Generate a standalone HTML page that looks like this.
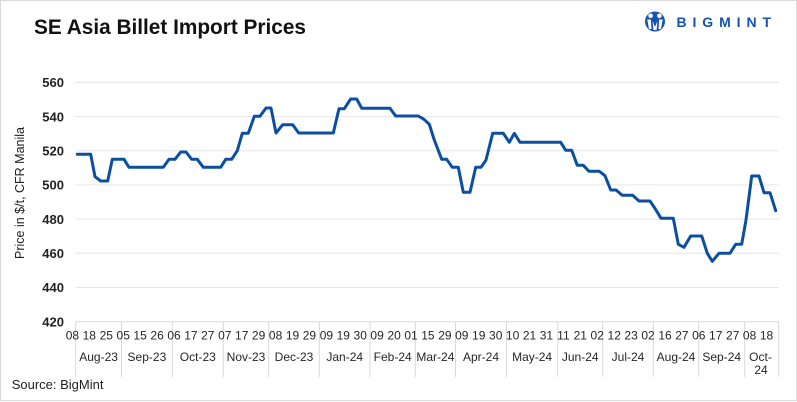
<!DOCTYPE html>
<html>
<head>
<meta charset="utf-8">
<style>
  html,body{margin:0;padding:0;background:#fff;}
  .wrap{position:relative;width:797px;height:402px;overflow:hidden;background:#fff;}
  svg{position:absolute;left:0;top:0;}
  text{font-family:"Liberation Sans", Arial, sans-serif;}
</style>
</head>
<body>
<div class="wrap">
<svg width="797" height="402" viewBox="0 0 797 402" xmlns="http://www.w3.org/2000/svg">
  <rect x="0.5" y="0.5" width="796" height="400" fill="#fff" stroke="#d9d9d9" stroke-width="1"/>

  <!-- Title -->
  <text x="34" y="34" font-size="20.8" font-weight="bold" fill="#111">SE Asia Billet Import Prices</text>

  <!-- Logo -->
  <g>
    <circle cx="655" cy="21.5" r="10" fill="#1652b4"/>
    <circle cx="650.6" cy="15.8" r="2.3" fill="#fff"/>
    <circle cx="659.4" cy="15.8" r="2.3" fill="#fff"/>
    <path d="M647.3 19.5 L650.8 19.5 L651.5 29 L649 29 Z" fill="#fff"/>
    <path d="M662.7 19.5 L659.2 19.5 L658.5 29 L661 29 Z" fill="#fff"/>
    <path d="M652.6 21 L655 27 L657.4 21 L656.6 30 L653.4 30 Z" fill="#fff"/>
    <text x="676.5" y="27.2" font-size="14" font-weight="bold" fill="#1652b4" letter-spacing="5.9">BIGMINT</text>
  </g>

  <!-- Gridlines -->
  <g stroke="#e6e6e6" stroke-width="1">
    <line x1="75.5" y1="82.4" x2="779" y2="82.4"/>
    <line x1="75.5" y1="116.6" x2="779" y2="116.6"/>
    <line x1="75.5" y1="150.8" x2="779" y2="150.8"/>
    <line x1="75.5" y1="184.9" x2="779" y2="184.9"/>
    <line x1="75.5" y1="219.1" x2="779" y2="219.1"/>
    <line x1="75.5" y1="253.3" x2="779" y2="253.3"/>
    <line x1="75.5" y1="287.5" x2="779" y2="287.5"/>
  </g>
  <!-- Axis + month separators -->
  <g stroke="#d9d9d9" stroke-width="1">
    <line x1="75.5" y1="321.7" x2="779" y2="321.7"/>
    <line x1="75.7" y1="321.7" x2="75.7" y2="377"/>
    <line x1="121.5" y1="321.7" x2="121.5" y2="377"/>
    <line x1="172.3" y1="321.7" x2="172.3" y2="377"/>
    <line x1="223.3" y1="321.7" x2="223.3" y2="377"/>
    <line x1="268.7" y1="321.7" x2="268.7" y2="377"/>
    <line x1="319.3" y1="321.7" x2="319.3" y2="377"/>
    <line x1="370" y1="321.7" x2="370" y2="377"/>
    <line x1="415.3" y1="321.7" x2="415.3" y2="377"/>
    <line x1="455.5" y1="321.7" x2="455.5" y2="377"/>
    <line x1="506.5" y1="321.7" x2="506.5" y2="377"/>
    <line x1="557.7" y1="321.7" x2="557.7" y2="377"/>
    <line x1="602.7" y1="321.7" x2="602.7" y2="377"/>
    <line x1="653.3" y1="321.7" x2="653.3" y2="377"/>
    <line x1="698.7" y1="321.7" x2="698.7" y2="377"/>
    <line x1="744.7" y1="321.7" x2="744.7" y2="377"/>
    <line x1="778.7" y1="321.7" x2="778.7" y2="377"/>
  </g>

  <!-- Y tick labels -->
  <g font-size="13" font-weight="bold" fill="#222" text-anchor="end">
    <text x="64" y="87.1">560</text>
    <text x="64" y="121.3">540</text>
    <text x="64" y="155.5">520</text>
    <text x="64" y="189.6">500</text>
    <text x="64" y="223.8">480</text>
    <text x="64" y="258">460</text>
    <text x="64" y="292.2">440</text>
    <text x="64" y="326.4">420</text>
  </g>

  <!-- Y axis title -->
  <text transform="translate(24,193) rotate(-90)" font-size="12.5" fill="#222" text-anchor="middle">Price in $/t, CFR Manila</text>

  <!-- Day labels -->
  <g font-size="12" fill="#262626" text-anchor="middle">
    <text x="72.4" y="339.5">08</text>
    <text x="89.3" y="339.5">18</text>
    <text x="106.3" y="339.5">25</text>
    <text x="123.2" y="339.5">05</text>
    <text x="140.1" y="339.5">15</text>
    <text x="157.1" y="339.5">26</text>
    <text x="174" y="339.5">06</text>
    <text x="190.9" y="339.5">17</text>
    <text x="207.8" y="339.5">27</text>
    <text x="224.8" y="339.5">07</text>
    <text x="241.7" y="339.5">17</text>
    <text x="258.6" y="339.5">29</text>
    <text x="275.6" y="339.5">08</text>
    <text x="292.5" y="339.5">19</text>
    <text x="309.4" y="339.5">29</text>
    <text x="326.4" y="339.5">09</text>
    <text x="343.3" y="339.5">19</text>
    <text x="360.2" y="339.5">30</text>
    <text x="377.1" y="339.5">09</text>
    <text x="394.1" y="339.5">20</text>
    <text x="411" y="339.5">01</text>
    <text x="427.9" y="339.5">15</text>
    <text x="444.9" y="339.5">29</text>
    <text x="461.8" y="339.5">09</text>
    <text x="478.7" y="339.5">19</text>
    <text x="495.7" y="339.5">30</text>
    <text x="512.6" y="339.5">10</text>
    <text x="529.5" y="339.5">21</text>
    <text x="546.4" y="339.5">31</text>
    <text x="563.4" y="339.5">11</text>
    <text x="580.3" y="339.5">21</text>
    <text x="597.2" y="339.5">02</text>
    <text x="614.2" y="339.5">12</text>
    <text x="631.1" y="339.5">23</text>
    <text x="648" y="339.5">02</text>
    <text x="665" y="339.5">16</text>
    <text x="681.9" y="339.5">27</text>
    <text x="698.8" y="339.5">06</text>
    <text x="715.7" y="339.5">17</text>
    <text x="732.7" y="339.5">27</text>
    <text x="749.6" y="339.5">08</text>
    <text x="766.5" y="339.5">18</text>
  </g>

  <!-- Month labels -->
  <g font-size="12" fill="#262626" text-anchor="middle">
    <text x="98.6" y="361">Aug-23</text>
    <text x="146.9" y="361">Sep-23</text>
    <text x="197.8" y="361">Oct-23</text>
    <text x="246" y="361">Nov-23</text>
    <text x="294" y="361">Dec-23</text>
    <text x="344.7" y="361">Jan-24</text>
    <text x="392.7" y="361">Feb-24</text>
    <text x="435.4" y="361">Mar-24</text>
    <text x="481" y="361">Apr-24</text>
    <text x="532.1" y="361">May-24</text>
    <text x="580.2" y="361">Jun-24</text>
    <text x="628" y="361">Jul-24</text>
    <text x="676" y="361">Aug-24</text>
    <text x="721.7" y="361">Sep-24</text>
    <text x="760.5" y="361">Oct-</text>
    <text x="761" y="374">24</text>
  </g>

  <!-- Source -->
  <text x="11.7" y="389" font-size="13" fill="#222">Source: BigMint</text>

  <!-- Data line -->
  <polyline fill="none" stroke="#0b4fa0" stroke-width="3" stroke-linejoin="round" stroke-linecap="round"
    points="77.3,154.3 90.7,154.3 95,176.7 100.7,181 107.7,181 112.3,159.3 124,159.3 129,167.3 163.3,167.3 169,159.3 175,159.3 180.7,152 186,152 191.7,159.3 197.3,159.3 203.3,167.3 220.7,167.3 225.7,159.3 231.7,159.3 237.3,150.7 242.3,133.3 248.3,133.3 254.3,116.3 260,116.3 266,108 271,108 276,133 282.7,124.7 292.7,124.7 298.7,133 310,133 333.3,133 339,108.7 344.3,108.7 350.7,99 356.7,99 361.7,108.3 390,108.3 395.7,116 418.3,116 424,119.3 429.3,124.3 434.3,140 441.7,159.3 446.7,159.3 452.3,167.3 458.3,167.3 463.3,192.3 470,192.3 475.7,167.3 481,167.3 486,160 492.7,133.3 503.3,133.3 509.3,142.3 514.3,133.3 520,142.3 540,142.3 560.7,142.3 565.7,150.3 571.7,150.3 577.3,165.3 583.3,165.3 589,171.3 599.3,171.3 605,175.7 610.7,190 616,190 622.3,195.3 632.7,195.3 639,201 650,201 656,210 661,218.3 673.3,218.3 678.3,244.3 684,247.3 690.7,236 701.7,236 707.3,253.3 712.3,261.3 719,253.3 730,253.3 735.7,244.3 741.7,244.3 746,220 751.7,176 759,176 764,192.7 770,192.7 775.7,210.7"/>
</svg>
</div>
</body>
</html>
